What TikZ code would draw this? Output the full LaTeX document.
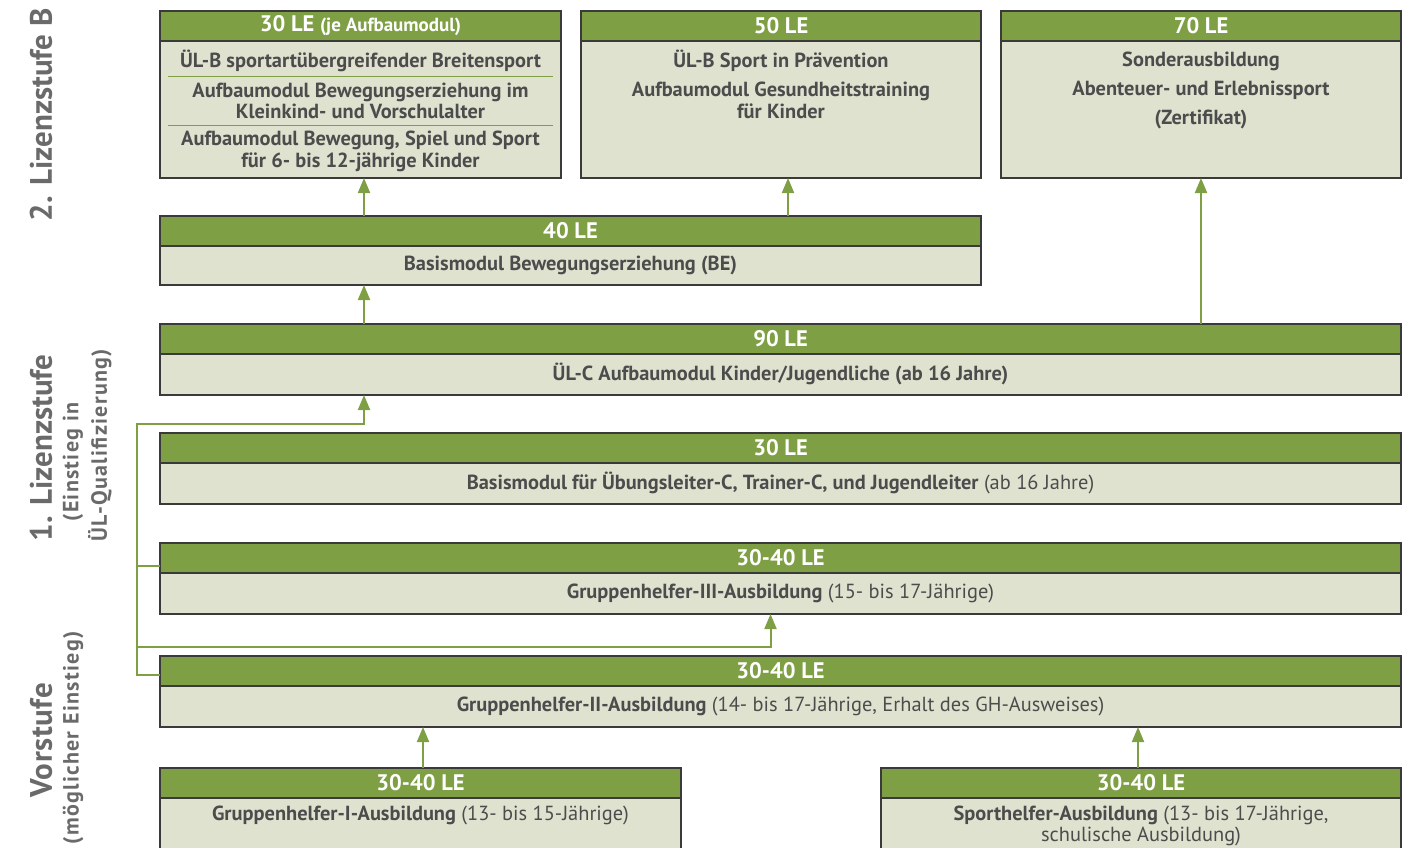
\documentclass[tikz,border=0pt]{standalone}
\usepackage{fontspec}
\setmainfont{PT Sans}
\usetikzlibrary{positioning,arrows.meta,calc}

\definecolor{lsgreen}{HTML}{7F9F45}
\definecolor{lsbody}{HTML}{E0E2D0}
\definecolor{lsframe}{HTML}{3A3A3A}
\definecolor{lstext}{HTML}{4C4C4C}
\definecolor{lslevel}{HTML}{6A6A6A}

\newcommand{\hdrfont}{\fontsize{22.5}{24}\selectfont\bfseries}
\newcommand{\bdyfont}{\fontsize{20.4}{21.5}\selectfont}
\newcommand{\lvlfont}{\fontsize{31}{33}\selectfont\bfseries}
\newcommand{\subfont}{\fontsize{22}{24}\selectfont\bfseries\addfontfeature{LetterSpace=6}}

\tikzset{
  hdr/.style={draw=lsframe, fill=lsgreen, text=white, font=\hdrfont,
    anchor=north west, minimum height=30pt, inner sep=0pt, outer sep=0pt,
    line width=1.2pt},
  bdy/.style={draw=lsframe, fill=lsbody, text=lstext, font=\bdyfont,
    inner sep=0pt, outer sep=0pt, line width=1.2pt, align=center},
  txt/.style={text=lstext, font=\bdyfont\bfseries, inner sep=0pt, align=center},
  lvl/.style={text=lslevel, rotate=90, inner sep=0pt},
  arr/.style={draw=lsgreen, line width=2pt, -{Triangle[width=12pt,length=15pt]}},
  link/.style={draw=lsgreen, line width=2pt},
  sep/.style={draw=lsgreen, line width=1pt},
}

\begin{document}
\begin{tikzpicture}[x=1pt,y=-1pt]
  \useasboundingbox (0,0) rectangle (1423,847);
  \clip (0,0) rectangle (1423,847);

  % Lizenzstufe B
  \node[hdr, minimum width=401pt] (ulbH) at (160,11) {30 LE {\fontsize{19}{20}\selectfont(je Aufbaumodul)}};
  \node[bdy, below=0pt of ulbH, minimum width=401pt, minimum height=137pt] (ulb) {};
  \node[hdr, minimum width=400pt] (ulpH) at (581,11) {50 LE};
  \node[bdy, below=0pt of ulpH, minimum width=400pt, minimum height=137pt] (ulp) {};
  \node[hdr, minimum width=400pt] (sonH) at (1001,11) {70 LE};
  \node[bdy, below=0pt of sonH, minimum width=400pt, minimum height=137pt] (son) {};

  \node[txt] (ulb1) at (360.5,61) {ÜL-B sportartübergreifender Breitensport};
  \node[txt] (ulb2) at (360.5,101) {Aufbaumodul Bewegungserziehung im\\Kleinkind- und Vorschulalter};
  \node[txt] (ulb3) at (360.5,151.5) {Aufbaumodul Bewegung, Spiel und Sport\\für 6- bis 12-jährige Kinder};
  \draw[sep] (168,76) -- (553,76);
  \draw[sep] (168,125) -- (553,125);

  \node[txt] (ulp1) at (781,61) {ÜL-B Sport in Prävention};
  \node[txt] (ulp2) at (781,100.5) {Aufbaumodul Gesundheitstraining\\für Kinder};

  \node[txt] (son1) at (1201,61) {Sonderausbildung};
  \node[txt] (son2) at (1201,90) {Abenteuer- und Erlebnissport};
  \node[txt] (son3) at (1201,119) {(Zertifikat)};

  \node[hdr, minimum width=821pt] (basisH) at (160,216) {40 LE};
  \node[bdy, below=0pt of basisH, minimum width=821pt, minimum height=39pt] (basis)
    {\bfseries Basismodul Bewegungserziehung (BE)};

  % 1. Lizenzstufe
  \node[hdr, minimum width=1241pt] (ulcH) at (160,324) {90 LE};
  \node[bdy, below=0pt of ulcH, minimum width=1241pt, minimum height=41pt] (ulc)
    {\bfseries ÜL-C Aufbaumodul Kinder/Jugendliche (ab 16 Jahre)};

  \node[hdr, minimum width=1241pt] (baseH) at (160,433) {30 LE};
  \node[bdy, below=0pt of baseH, minimum width=1241pt, minimum height=41pt] (base)
    {\textbf{Basismodul für Übungsleiter-C, Trainer-C, und Jugendleiter} (ab 16 Jahre)};

  \node[hdr, minimum width=1241pt] (gh3H) at (160,543) {30-40 LE};
  \node[bdy, below=0pt of gh3H, minimum width=1241pt, minimum height=41pt] (gh3)
    {\textbf{Gruppenhelfer-III-Ausbildung} (15- bis 17-Jährige)};

  % Vorstufe
  \node[hdr, minimum width=1241pt] (gh2H) at (160,656) {30-40 LE};
  \node[bdy, below=0pt of gh2H, minimum width=1241pt, minimum height=41pt] (gh2)
    {\textbf{Gruppenhelfer-II-Ausbildung} (14- bis 17-Jährige, Erhalt des GH-Ausweises)};

  \node[hdr, minimum width=521pt] (gh1H) at (160,768) {30-40 LE};
  \node[bdy, below=0pt of gh1H, minimum width=521pt, minimum height=70pt] (gh1) {};
  \node[txt, font=\bdyfont] (gh1t) at (420.5,815.5) {\textbf{Gruppenhelfer-I-Ausbildung} (13- bis 15-Jährige)};

  \node[hdr, minimum width=520pt] (shH) at (881,768) {30-40 LE};
  \node[bdy, below=0pt of shH, minimum width=520pt, minimum height=70pt] (sh) {};
  \node[txt, font=\bdyfont] (sht) at (1141,826) {\textbf{Sporthelfer-Ausbildung} (13- bis 17-Jährige,\\schulische Ausbildung)};

  % Pfeile
  \coordinate (colA) at ($(ulb.south)+(3.5,0)$);
  \draw[arr] (basisH.north -| colA) -- (colA);
  \draw[arr] ($(basisH.north -| ulp.south)+(7,0)$) -- ($(ulp.south)+(7,0)$);
  \draw[arr] (ulcH.north -| son.south) -- (son.south);
  \draw[arr] (ulcH.north -| colA) -- (basis.south -| colA);
  \draw[arr] ($(gh1H.north)+(2.5,0)$) -- ($(gh2.south -| gh1H.north)+(2.5,0)$);
  \draw[arr] ($(shH.north)+(-3,0)$) -- ($(gh2.south -| shH.north)+(-3,0)$);

  \coordinate (railtop) at (137,424);
  \coordinate (railbot) at (137,647);
  \coordinate (gh3in) at ($(gh3H.south west)!0.25!(gh3H.north west)$);
  \coordinate (gh2in) at ($(gh2H.south west)!0.37!(gh2H.north west)$);
  \draw[arr] (gh2in) -| (railtop) -| (ulc.south -| colA);
  \draw[link] (gh3in) -- (gh3in -| railtop);
  \draw[arr] (railbot) -| ($(gh3.south)+(-10,0)$);

  % Stufen
  \node[lvl, font=\lvlfont] (stufeB) at (41,115) {2. Lizenzstufe B};
  \node[lvl, font=\lvlfont] (stufe1) at (41,448) {1. Lizenzstufe};
  \node[lvl, font=\subfont] (stufe1a) at (73,462) {(Einstieg in};
  \node[lvl, font=\subfont] (stufe1b) at (100,445) {ÜL-Qualifizierung)};
  \node[lvl, font=\lvlfont\addfontfeature{LetterSpace=2}] (vor) at (41,740) {Vorstufe};
  \node[lvl, font=\subfont] (vora) at (73,738) {(möglicher Einstieg)};
\end{tikzpicture}
\end{document}
